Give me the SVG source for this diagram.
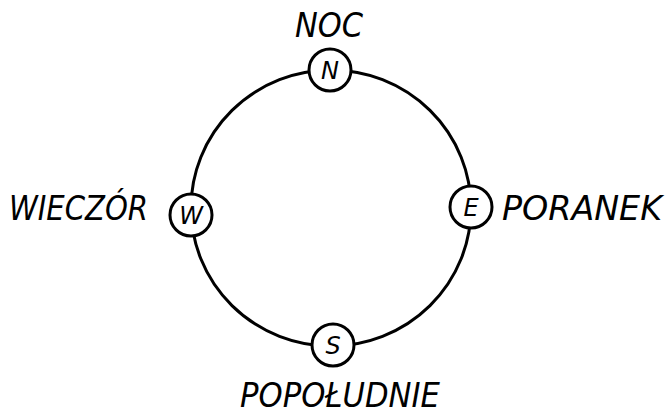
<svg xmlns="http://www.w3.org/2000/svg" width="669" height="415" viewBox="0 0 669 415">
<style>
.ring{fill:none;stroke:#000;stroke-width:3}
.node{fill:#fff;stroke:#000;stroke-width:3}
.lbl{font-family:"DejaVu Sans","Liberation Sans",sans-serif;font-style:italic;font-size:34px;fill:#000}
.let{font-family:"DejaVu Sans","Liberation Sans",sans-serif;font-style:italic;font-size:24px;fill:#000;text-anchor:middle}
</style>
<rect width="669" height="415" fill="#fff"/>
<g id="connectors">
<ellipse class="ring" cx="331" cy="208" rx="140" ry="138"/>
</g>
<g id="N">
<circle class="node" cx="330" cy="70" r="21"/>
<text class="let" x="330" y="79">N</text>
<text class="lbl" x="295" y="37" textLength="68" lengthAdjust="spacingAndGlyphs" font-size="30">NOC</text>
</g>
<g id="W">
<circle class="node" cx="191" cy="215" r="21"/>
<text class="let" x="191" y="224">W</text>
<text class="lbl" x="9" y="220" textLength="139" lengthAdjust="spacingAndGlyphs">WIECZÓR</text>
</g>
<g id="E">
<circle class="node" cx="471" cy="207" r="21"/>
<text class="let" x="471" y="216">E</text>
<text class="lbl" x="502" y="220" textLength="160" lengthAdjust="spacingAndGlyphs">PORANEK</text>
</g>
<g id="S">
<circle class="node" cx="333" cy="345" r="21"/>
<text class="let" x="333" y="354">S</text>
<text class="lbl" x="240" y="407" textLength="200" lengthAdjust="spacingAndGlyphs">POPOŁUDNIE</text>
</g>
</svg>
